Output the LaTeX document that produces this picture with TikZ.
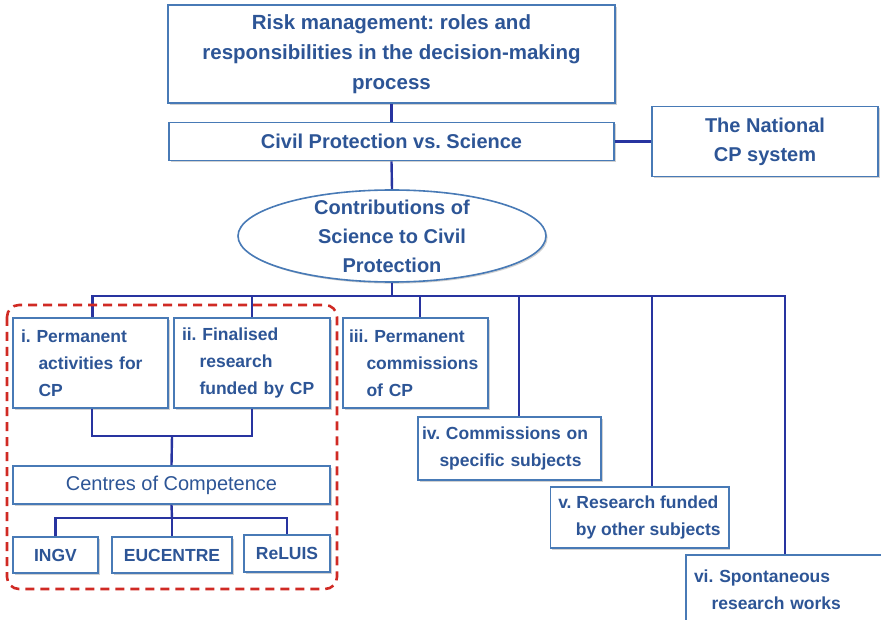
\documentclass[tikz,border=0pt]{standalone}
\usepackage{fontspec}
\setmainfont{Liberation Sans}
\usepackage{tikz}
\usetikzlibrary{shapes.geometric}
\usetikzlibrary{shadows}
\definecolor{cpline}{RGB}{40,52,160}
\definecolor{cpframe}{RGB}{72,122,182}
\definecolor{cptext}{RGB}{45,85,150}
\definecolor{cpred}{RGB}{208,42,36}
\tikzstyle{cp_box}=[draw=cpframe, line width=1.6pt, fill=white, text=cptext,
    font=\bfseries\fontsize{17.5}{27}\selectfont,
    drop shadow={shadow xshift=1.6pt, shadow yshift=-1.6pt, fill=black!40, opacity=0.45}]
\tikzstyle{cp_item}=[cp_box, align=left, inner xsep=8pt, inner ysep=0pt]
\tikzstyle{cp_link}=[draw=cpline, line width=2.4pt]
\newcommand{\ind}{\hspace*{1em}}
\frenchspacing

\begin{document}
\begin{tikzpicture}[x=1pt, y=-1pt]
          \useasboundingbox (0,0) rectangle (881,620);
          \clip (0,0) rectangle (881,620);
          \node[cp_box, minimum width=447pt, minimum height=98pt, align=center,
                font=\bfseries\fontsize{20.5}{30}\selectfont] (risk) at (391.5,54)
                {Risk management: roles and\\responsibilities in the decision-making\\process};
          \node[cp_box, minimum width=445pt, minimum height=38pt,
                font=\bfseries\fontsize{20}{24}\selectfont] (civil) at (391.5,141.5)
                {Civil Protection vs. Science};
          \node[cp_box, minimum width=226pt, minimum height=70pt, align=center,
                font=\bfseries\fontsize{20}{29}\selectfont] (natl) at (765,141.5)
                {The National\\CP system};
          \draw[cp_link](risk.south) -- (civil.north);
          \draw[cp_link](civil.east) -- (natl.west);
          \node[cp_box, ellipse, minimum width=308pt, minimum height=92pt, inner ysep=-14pt,
                align=center, font=\bfseries\fontsize{20}{29}\selectfont] (contrib) at (392,236)
                {Contributions of\\Science to Civil\\Protection};
          \draw[cp_link](civil.south) -- (contrib.north);
          % six kinds of contribution
          \node[cp_item, text width=139pt, minimum height=90pt] (pi) at (90.5,363)
                {i. Permanent\\\ind activities for\\\ind CP};
          \node[cp_item, text width=140pt, minimum height=90pt] (pii) at (252,363)
                {ii. Finalised\\\ind research\\\ind funded by CP};
          \node[cp_item, text width=133pt, inner xsep=6pt, minimum height=90pt] (piii) at (415.5,363)
                {iii. Permanent\\\ind commissions\\\ind of CP};
          \node[cp_item, text width=175pt, inner xsep=4pt, minimum height=63pt] (piv) at (509.5,448.5)
                {iv. Commissions on\\\ind specific subjects};
          \node[cp_item, minimum width=173pt, minimum height=61pt] (pv) at (639.5,517.5)
                {v. Research funded\\\ind by other subjects};
          \node[cp_item, text width=184pt, minimum height=70pt] (pvi) at (786,590)
                {vi. Spontaneous\\\ind research works};
          \coordinate (bus) at (392,296);
          \draw[cp_link](contrib.south) -- (bus);
          \draw[cp_link]([xshift=2pt]pi.north) |- (bus);
          \draw[cp_link](pii.north) |- (bus);
          \draw[cp_link]([xshift=4.5pt]piii.north) |- (bus);
          \draw[cp_link]([xshift=9.5pt]piv.north) |- (bus);
          \draw[cp_link]([xshift=12.5pt]pv.north) |- (bus);
          \draw[cp_link]([xshift=-1pt]pvi.north) |- (bus);
          % centres of competence
          \node[cp_box, minimum width=317pt, minimum height=38pt,
                font=\fontsize{20}{24}\selectfont] (centres) at (171.5,485)
                {Centres of Competence};
          \coordinate (join) at (172,436);
          \draw[cp_link]([xshift=1.5pt]pi.south) |- (join);
          \draw[cp_link](pii.south) |- (join);
          \draw[cp_link](join) -- (centres.north);
          \node[cp_box, minimum width=85pt, minimum height=36pt] (ingv) at (55.5,555) {INGV};
          \node[cp_box, minimum width=120pt, minimum height=36pt] (eucentre) at (172,555) {EUCENTRE};
          \node[cp_box, minimum width=86pt, minimum height=37pt] (reluis) at (287,553.5) {ReLUIS};
          \coordinate (split) at (172,518);
          \draw[cp_link](centres.south) -- (split);
          \draw[cp_link](ingv.north) |- (split);
          \draw[cp_link](eucentre.north) -- (split);
          \draw[cp_link](reluis.north) |- (split);
          \draw[cpred, line width=2.6pt, dash pattern=on 9pt off 6pt, rounded corners=12pt]
                (7,305) rectangle (337,589);
        \end{tikzpicture}
\end{document}
